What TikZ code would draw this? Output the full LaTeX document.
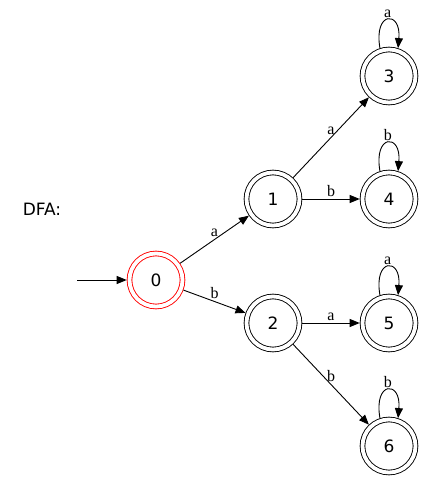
\documentclass[tikz,border=0pt]{standalone}
\usepackage{fontspec}
\setmainfont{DejaVu Sans}
\newfontfamily\lblfont{Liberation Serif}
\usetikzlibrary{arrows.meta}
\begin{document}
\begin{tikzpicture}[x=1pt,y=-1pt,
  state/.style={circle,draw,line width=0.9pt,double,double distance=3.8pt,
    minimum size=53pt,inner sep=0pt,outer sep=2.8pt,font=\fontsize{17}{19}\selectfont},
  arr/.style={-{Triangle[length=10pt,width=8pt]},line width=0.9pt},
  lbl/.style={font=\lblfont\fontsize{16}{18}\selectfont,inner sep=2pt}]
\useasboundingbox (0,0) rectangle (425,483);
\node[font=\fontsize{17}{19}\selectfont] (dfa) at (42,209) {DFA:};
\node[state,red] (n0) at (156,280) {\textcolor{black}{0}};
\node[state] (n1) at (273,199) {1};
\node[state] (n2) at (273,323) {2};
\node[state] (n3) at (389,76) {3};
\node[state] (n4) at (389,199) {4};
\node[state] (n5) at (389,323) {5};
\node[state] (n6) at (389,446) {6};
\coordinate (start) at (77,280);
\draw[arr] (start) -- (n0);
\draw[arr] (n0) -- node[lbl,above] {a} (n1);
\draw[arr] (n0) -- node[lbl,above] {b} (n2);
\draw[arr] (n1) -- node[lbl,above] {a} (n3);
\draw[arr] (n1) -- node[lbl,above] {b} (n4);
\draw[arr] (n2) -- node[lbl,above] {a} (n5);
\draw[arr] (n2) -- node[lbl,above] {b} (n6);
\foreach \n/\l in {n3/a,n4/b,n5/a,n6/b}{
  \draw[arr] (\n.108) .. controls +(-100:38) and +(-85:38) .. node[lbl,above,pos=0.5] {\l} (\n.72);
}
\end{tikzpicture}
\end{document}
